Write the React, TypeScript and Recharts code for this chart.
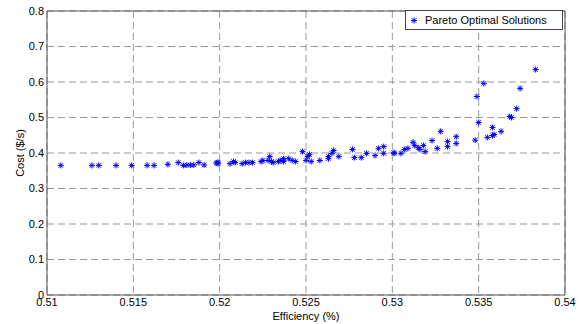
import { ScatterChart, Scatter, XAxis, YAxis, CartesianGrid, ReferenceLine } from 'recharts'

// efficiency values of the Pareto front
const efficiency = [
  0.5108, 0.5126, 0.513, 0.514, 0.5149, 0.5158, 0.5162, 0.517, 0.5176, 0.5179,
  0.5181, 0.5183, 0.5185, 0.5188, 0.5191, 0.5198, 0.5199, 0.5199, 0.5206, 0.5208,
  0.5209, 0.5213, 0.5215, 0.5217, 0.5219, 0.5224, 0.5225, 0.5228, 0.5229, 0.523,
  0.5231, 0.5234, 0.5235, 0.5237, 0.5237, 0.524, 0.5242, 0.5244, 0.5248, 0.5251,
  0.525, 0.5252, 0.5253, 0.5258, 0.5263, 0.5263, 0.5265, 0.5266, 0.5269, 0.5277,
  0.5278, 0.5282, 0.5285, 0.529, 0.5292, 0.5295, 0.5295, 0.5301, 0.5301, 0.5305,
  0.5307, 0.5309, 0.5312, 0.5313, 0.5315, 0.5316, 0.5318, 0.5319, 0.5323, 0.5326,
  0.5328, 0.5332, 0.5332, 0.5337, 0.5337, 0.5348, 0.535, 0.5349, 0.5353, 0.5355,
  0.5358, 0.5358, 0.5359, 0.5363, 0.5368, 0.5369, 0.5372, 0.5374, 0.5383,
]

// cost values, same order
const cost = [
  0.365, 0.365, 0.365, 0.365, 0.365, 0.365, 0.365, 0.368, 0.373, 0.365,
  0.366, 0.366, 0.366, 0.373, 0.366, 0.372, 0.37, 0.374, 0.37, 0.376,
  0.373, 0.37, 0.373, 0.373, 0.373, 0.376, 0.379, 0.379, 0.39, 0.376,
  0.373, 0.376, 0.379, 0.384, 0.376, 0.384, 0.379, 0.376, 0.404, 0.39,
  0.379, 0.396, 0.376, 0.379, 0.384, 0.39, 0.399, 0.407, 0.39, 0.41,
  0.387, 0.387, 0.399, 0.393, 0.413, 0.399, 0.418, 0.399, 0.401, 0.399,
  0.41, 0.413, 0.43, 0.421, 0.415, 0.41, 0.421, 0.404, 0.435, 0.413,
  0.461, 0.432, 0.418, 0.446, 0.427, 0.436, 0.486, 0.559, 0.596, 0.444,
  0.472, 0.449, 0.452, 0.461, 0.503, 0.5, 0.525, 0.582, 0.635,
]

const xTicks = [0.51, 0.515, 0.52, 0.525, 0.53, 0.535, 0.54]
const yTicks = [0, 0.1, 0.2, 0.3, 0.4, 0.5, 0.6, 0.7, 0.8]

const points = efficiency.map((e, i) => ({ eff: e, cost: cost[i] }))

const font = { fontFamily: 'Liberation Sans, Arial, sans-serif', fontSize: 11, fill: '#000' }

const Star = (props: any) => {
  const { cx, cy } = props
  const r = 3
  const d = 2.2
  return (
    <g stroke="#0000ff" strokeWidth={1}>
      <line x1={cx - r} y1={cy} x2={cx + r} y2={cy} />
      <line x1={cx} y1={cy - r} x2={cx} y2={cy + r} />
      <line x1={cx - d} y1={cy - d} x2={cx + d} y2={cy + d} />
      <line x1={cx - d} y1={cy + d} x2={cx + d} y2={cy - d} />
    </g>
  )
}

// legend box drawn over the chart (a recharts Legend would shrink the plot)
const LegendBox = () => (
  <div
    style={{
      position: 'absolute',
      left: 405,
      top: 10,
      width: 158,
      height: 20,
      border: '1px solid #444',
      background: '#fff',
      display: 'flex',
      alignItems: 'center',
      fontFamily: 'Liberation Sans, Arial, sans-serif',
      fontSize: 11,
      color: '#000',
      boxSizing: 'border-box',
    }}
  >
    <svg width={16} height={17} style={{ marginLeft: 3 }}>
      <Star cx={5} cy={8.5} />
    </svg>
    <span>Pareto Optimal Solutions</span>
  </div>
)

export default function App() {
  return (
    <div style={{ position: 'absolute', left: 0, top: 0, width: 584, height: 324, background: '#fff' }}>
      <ScatterChart width={584} height={324} margin={{ top: 11, right: 19, bottom: 0, left: 0 }}>
        <CartesianGrid
          stroke="#999"
          strokeDasharray="7 4"
          horizontalValues={yTicks}
          verticalValues={xTicks}
        />
        <XAxis
          type="number"
          dataKey="eff"
          domain={[0.51, 0.54]}
          ticks={xTicks}
          tickFormatter={(v: number) => String(+v.toFixed(3))}
          tick={font}
          tickLine={false}
          tickSize={0}
          tickMargin={3}
          axisLine={{ stroke: '#555' }}
          height={29}
          label={{ value: 'Efficiency (%)', position: 'insideBottom', offset: 4, style: font }}
        />
        <YAxis
          type="number"
          dataKey="cost"
          domain={[0, 0.8]}
          ticks={yTicks}
          tickFormatter={(v: number) => String(+v.toFixed(1))}
          tick={font}
          tickLine={false}
          tickSize={0}
          tickMargin={3}
          axisLine={{ stroke: '#555' }}
          width={47}
          label={{ value: 'Cost ($/s)', angle: -90, position: 'center', dx: -3, style: font }}
        />
        <ReferenceLine x={0.54} stroke="#555" />
        <ReferenceLine y={0.8} stroke="#555" />
        <Scatter
          name="Pareto Optimal Solutions"
          data={points}
          shape={<Star />}
          isAnimationActive={false}
        />
      </ScatterChart>
      <LegendBox />
    </div>
  )
}
